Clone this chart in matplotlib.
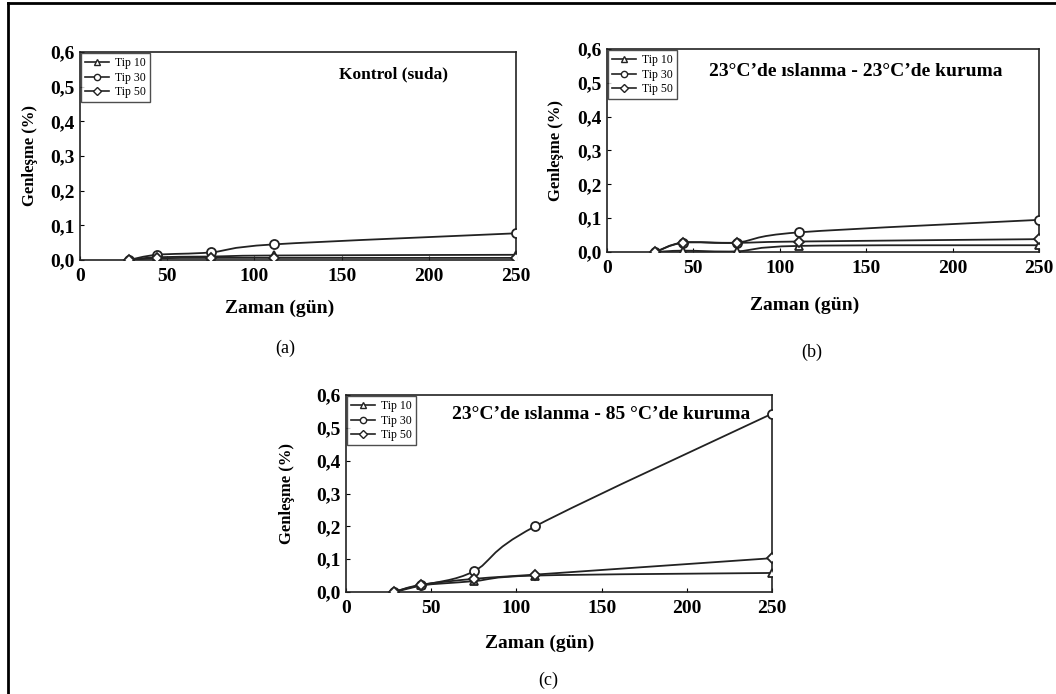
import matplotlib
matplotlib.use("Agg")
import matplotlib.pyplot as plt
from matplotlib.path import Path
from matplotlib.patches import PathPatch
from matplotlib.lines import Line2D

# ---------------- data ----------------
days = [28, 44, 75, 111, 250]
series_names = ["Tip 10", "Tip 30", "Tip 50"]

a_tip10 = [0.0, 0.008, 0.010, 0.013, 0.015]
a_tip30 = [0.0, 0.015, 0.022, 0.045, 0.077]
a_tip50 = [0.0, 0.005, 0.006, 0.006, 0.006]

b_tip10 = [0.0, 0.004, 0.002, 0.018, 0.020]
b_tip30 = [0.0, 0.028, 0.028, 0.058, 0.095]
b_tip50 = [0.0, 0.027, 0.027, 0.031, 0.038]

c_tip10 = [0.0, 0.020, 0.033, 0.050, 0.058]
c_tip30 = [0.0, 0.020, 0.063, 0.200, 0.543]
c_tip50 = [0.0, 0.022, 0.040, 0.053, 0.103]

x_ticks = [0, 50, 100, 150, 200, 250]
y_ticks = [0.0, 0.1, 0.2, 0.3, 0.4, 0.5, 0.6]
y_ticklabels = ["0,0", "0,1", "0,2", "0,3", "0,4", "0,5", "0,6"]

titles = ["Kontrol (suda)",
          "23°C’de ıslanma - 23°C’de kuruma",
          "23°C’de ıslanma - 85 °C’de kuruma"]
captions = ["(a)", "(b)", "(c)"]
xlabel = "Zaman (gün)"
ylabel = "Genleşme (%)"

markers = ["^", "o", "D"]
marker_sizes = [6, 6.5, 5]

SERIF = ["Liberation Serif", "DejaVu Serif"]
plt.rcParams["font.family"] = SERIF

fig = plt.figure(figsize=(10.56, 6.94), dpi=100)
fig.patch.set_facecolor("white")

# outer frame (left and top)
fig.add_artist(Line2D([8/1056, 8/1056], [0, 1 - 3/694], transform=fig.transFigure,
                      color="black", lw=2))
fig.add_artist(Line2D([8/1056, 1], [1 - 3/694, 1 - 3/694], transform=fig.transFigure,
                      color="black", lw=2))

panels = [
    dict(rect=[80/1056, 1 - 260/694, 436/1056, 208/694],
         data=[a_tip10, a_tip30, a_tip50], title_xy=(0.72, 0.89), title_fs=12.5,
         ylab_x=30, xlab=(280, 308), cap=(285, 348)),
    dict(rect=[607/1056, 1 - 252/694, 432/1056, 203/694],
         data=[b_tip10, b_tip30, b_tip50], title_xy=(0.575, 0.89), title_fs=14,
         ylab_x=556, xlab=(805, 305), cap=(812, 352)),
    dict(rect=[346/1056, 1 - 592/694, 426/1056, 197/694],
         data=[c_tip10, c_tip30, c_tip50], title_xy=(0.6, 0.9), title_fs=14,
         ylab_x=287, xlab=(540, 643), cap=(548, 680)),
]


def smooth_path(xs, ys):
    verts = [(xs[0], ys[0])]
    codes = [Path.MOVETO]
    n = len(xs)
    for i in range(n - 1):
        p0 = (xs[max(i - 1, 0)], ys[max(i - 1, 0)])
        p1 = (xs[i], ys[i])
        p2 = (xs[i + 1], ys[i + 1])
        p3 = (xs[min(i + 2, n - 1)], ys[min(i + 2, n - 1)])
        c1 = (p1[0] + (p2[0] - p0[0]) / 6, p1[1] + (p2[1] - p0[1]) / 6)
        c2 = (p2[0] - (p3[0] - p1[0]) / 6, p2[1] - (p3[1] - p1[1]) / 6)
        verts += [c1, c2, p2]
        codes += [Path.CURVE4] * 3
    return Path(verts, codes)


for k, p in enumerate(panels):
    ax = fig.add_axes(p["rect"])
    for s, ys in enumerate(p["data"]):
        patch = PathPatch(smooth_path(days, ys), fill=False, edgecolor="#222222",
                          lw=1.3, transform=ax.transData, zorder=2)
        ax.add_patch(patch)
        ax.plot(days, ys, linestyle="none", marker=markers[s], ms=marker_sizes[s],
                mfc="white", mec="#222222", mew=1.3, zorder=3)
    ax.set_xlim(0, 250)
    ax.set_ylim(0, 0.6)
    ax.set_xticks(x_ticks)
    ax.set_yticks(y_ticks)
    ax.set_yticklabels(y_ticklabels)
    ax.tick_params(direction="in", length=3, width=0.8, labelsize=14, pad=6)
    ax.tick_params(axis="y", pad=4)
    for lab in ax.get_xticklabels() + ax.get_yticklabels():
        lab.set_fontweight("bold")
    for sp in ax.spines.values():
        sp.set_linewidth(1.2)
        sp.set_color("#222222")
    ax.text(p["title_xy"][0], p["title_xy"][1], titles[k], transform=ax.transAxes,
            ha="center", va="center", fontsize=p["title_fs"], fontweight="bold")
    handles = [Line2D([], [], color="#222222", lw=1.2, marker=markers[s],
                      ms=4.5, mfc="white", mec="#222222") for s in range(3)]
    leg = ax.legend(handles, series_names, loc="upper left", fontsize=8.5,
                    frameon=True, fancybox=False, borderaxespad=0.1,
                    handlelength=2.0, handletextpad=0.5, labelspacing=0.2,
                    borderpad=0.35)
    leg.get_frame().set_edgecolor("#222222")
    leg.get_frame().set_linewidth(1.0)
    fig.text(p["ylab_x"] / 1056, p["rect"][1] + p["rect"][3] / 2, ylabel,
             rotation=90, ha="center", va="center", fontsize=12, fontweight="bold")
    fig.text(p["xlab"][0] / 1056, 1 - p["xlab"][1] / 694, xlabel, ha="center",
             va="center", fontsize=14, fontweight="bold")
    fig.text(p["cap"][0] / 1056, 1 - p["cap"][1] / 694, captions[k], ha="center",
             va="center", fontsize=13)

fig.savefig("out.png", dpi=100, facecolor="white")
